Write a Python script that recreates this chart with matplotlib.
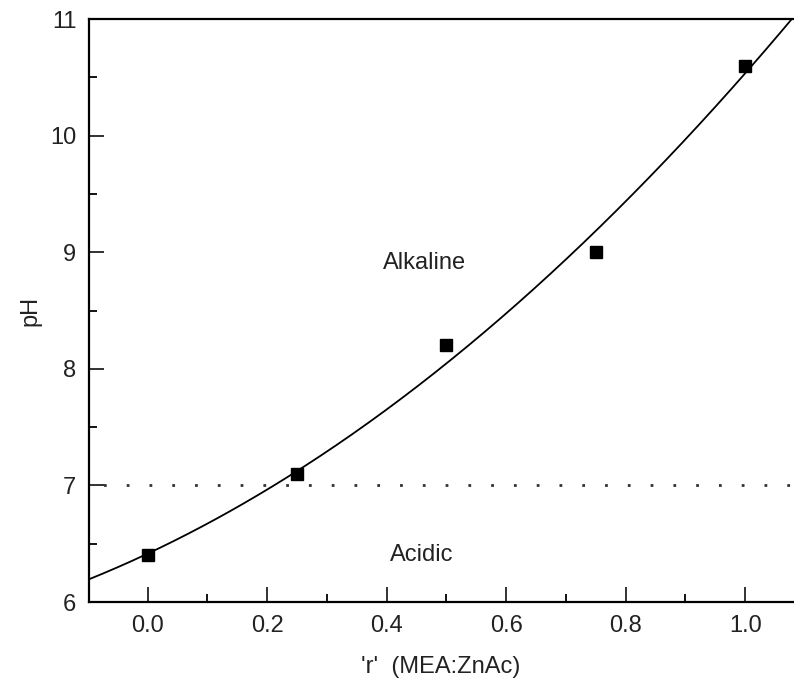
import numpy as np
import matplotlib
matplotlib.use("Agg")
import matplotlib.pyplot as plt
from matplotlib.ticker import MultipleLocator

plt.rcParams['font.family'] = ['Liberation Sans', 'DejaVu Sans']

# MEA:ZnAc molar ratio and measured pH
ratio = [0.0, 0.25, 0.5, 0.75, 1.0]
ph = [6.4, 7.1, 8.2, 9.0, 10.6]
neutral_ph = 7.0

x_ticks = [0.0, 0.2, 0.4, 0.6, 0.8, 1.0]
x_tick_labels = ['0.0', '0.2', '0.4', '0.6', '0.8', '1.0']
y_ticks = [6, 7, 8, 9, 10, 11]

fig = plt.figure(figsize=(7.94, 6.81), dpi=100)
ax = fig.add_axes([89 / 794, (681 - 602) / 681, (793 - 89) / 794, (602 - 19) / 681])

xmin, xmax = -0.098, 1.08
ax.set_xlim(xmin, xmax)
ax.set_ylim(6, 11)

# second-order polynomial fit through the measurements
coef = np.polyfit(ratio, ph, 2)
xs = np.linspace(xmin, xmax, 300)
ax.plot(xs, np.polyval(coef, xs), color='black', lw=1.3, zorder=3)

ax.plot(ratio, ph, linestyle='none', marker='s', markersize=8.5,
        color='black', zorder=4)

ax.axhline(neutral_ph, color='#333333', lw=2.0, linestyle=(3, (1, 7.2)), zorder=2)

ax.text(0.463, 8.91, 'Alkaline', fontsize=17, ha='center', va='center', color='#222222')
ax.text(0.458, 6.40, 'Acidic', fontsize=17, ha='center', va='center', color='#222222')

ax.set_xticks(x_ticks)
ax.set_xticklabels(x_tick_labels)
ax.set_yticks(y_ticks)
ax.xaxis.set_minor_locator(MultipleLocator(0.1))
ax.yaxis.set_minor_locator(MultipleLocator(0.5))

ax.tick_params(which='major', direction='in', length=11, width=1.3,
               labelsize=17, pad=9, colors='#222222')
ax.tick_params(which='minor', direction='in', length=6, width=1.3)
ax.tick_params(axis='y', which='both', right=False)
ax.tick_params(axis='x', which='both', top=False)

for side in ['left', 'bottom', 'top']:
    ax.spines[side].set_linewidth(1.6)
ax.spines['right'].set_visible(False)

ax.set_xlabel("'r'  (MEA:ZnAc)", fontsize=17, labelpad=14, color='#222222')
ax.set_ylabel('pH', fontsize=17, labelpad=6, color='#222222')

fig.savefig('out.png', dpi=100)
